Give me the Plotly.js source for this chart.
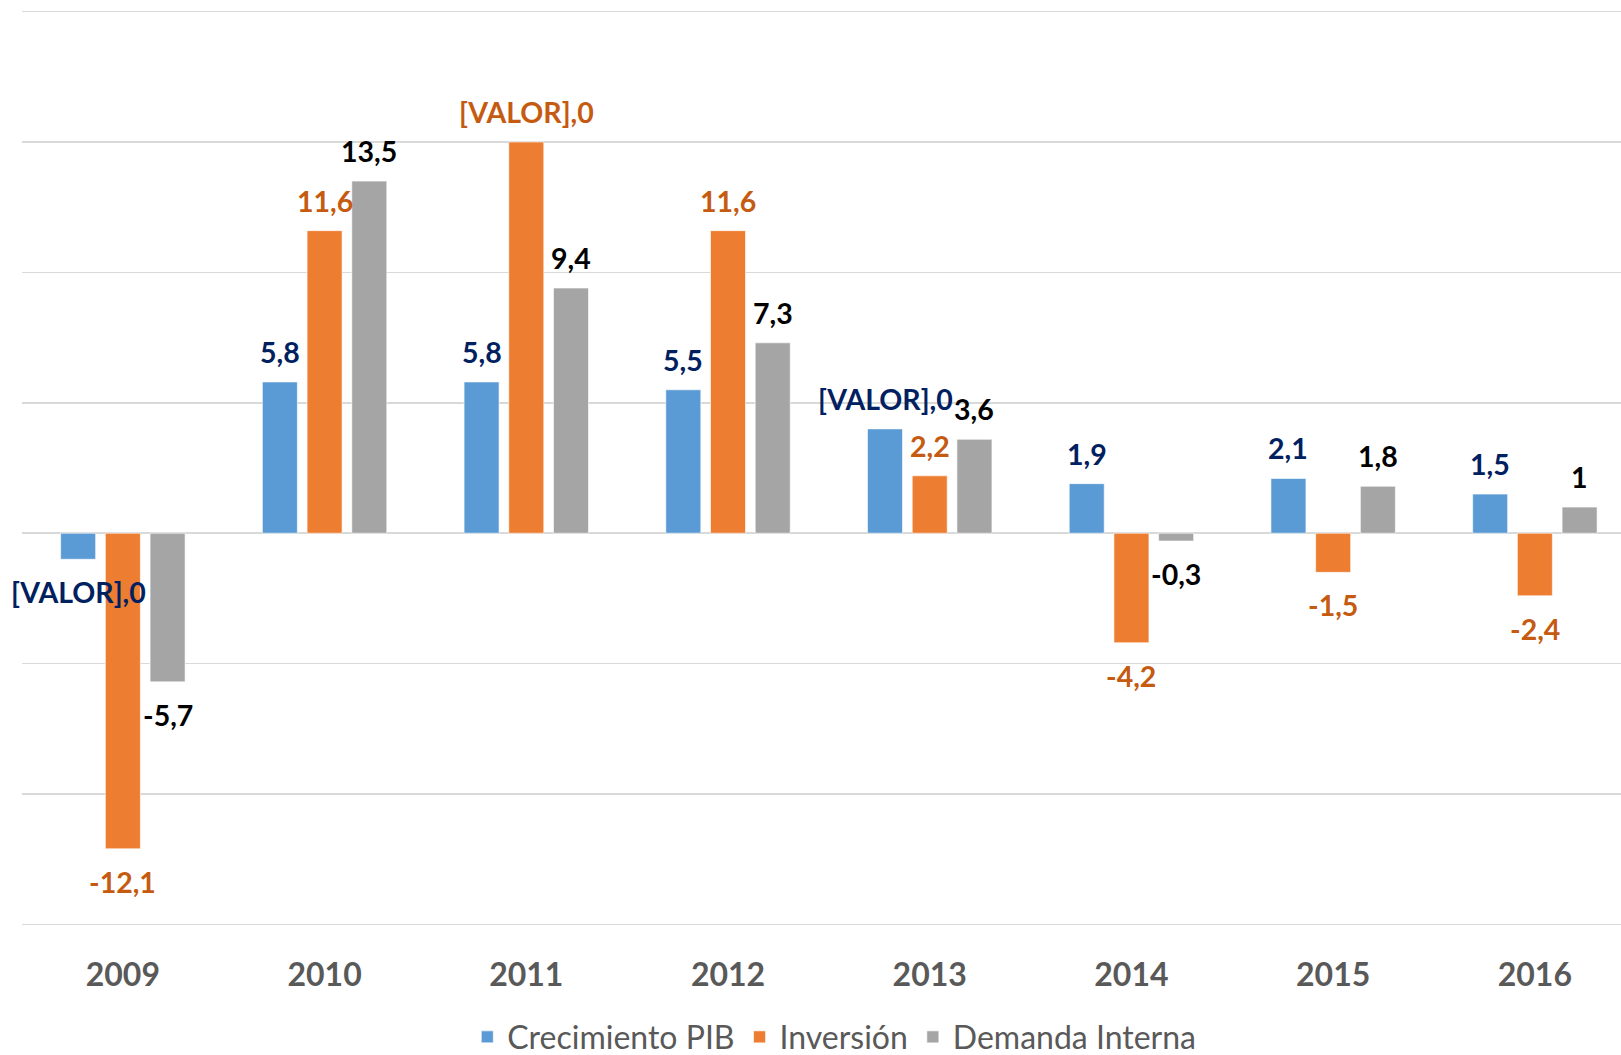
<!DOCTYPE html>
<html>
<head>
<meta charset="utf-8">
<script src="https://cdn.plot.ly/plotly-3.0.1.min.js"></script>
<style>html,body{margin:0;padding:0;background:#fff;}#chart{width:1621px;height:1055px;}</style>
</head>
<body>
<div id="chart"></div>
<script>
// ---- data ----
var years = ["2009", "2010", "2011", "2012", "2013", "2014", "2015", "2016"];
var seriesNames = ["Crecimiento PIB", "Inversión", "Demanda Interna"];
var pib = [-1.0, 5.8, 5.8, 5.5, 4.0, 1.9, 2.1, 1.5];
var inversion = [-12.1, 11.6, 15.0, 11.6, 2.2, -4.2, -1.5, -2.4];
var demanda = [-5.7, 13.5, 9.4, 7.3, 3.6, -0.3, 1.8, 1.0];
var pibLabels = ["[VALOR],0", "5,8", "5,8", "5,5", "[VALOR],0", "1,9", "2,1", "1,5"];
var inversionLabels = ["-12,1", "11,6", "[VALOR],0", "11,6", "2,2", "-4,2", "-1,5", "-2,4"];
var demandaLabels = ["-5,7", "13,5", "9,4", "7,3", "3,6", "-0,3", "1,8", "1"];

// ---- style ----
var barColors = ["#5B9BD5", "#ED7D31", "#A5A5A5"];
var labelColors = ["#002060", "#C55A11", "#000000"];
var xShifts = [-44.7, 0, 44.7];
var FONT = "Lato, 'Open Sans', 'Liberation Sans', sans-serif";

var values = [pib, inversion, demanda];
var labels = [pibLabels, inversionLabels, demandaLabels];

var traces = values.map(function (v, s) {
  return {
    type: "bar",
    name: seriesNames[s],
    legendgroup: "g" + s,
    x: years,
    y: v,
    marker: { color: barColors[s], line: { color: "rgba(255,255,255,0.6)", width: 1 } },
    hoverinfo: "x+y+name"
  };
});

var annotations = [];
values.forEach(function (v, s) {
  v.forEach(function (val, i) {
    annotations.push({
      x: i, y: val, xref: "x", yref: "y",
      text: labels[s][i],
      showarrow: false,
      xanchor: "center", yanchor: "middle",
      xshift: xShifts[s],
      yshift: val >= 0 ? 30 : -33,
      font: { family: FONT, size: 28.5, color: labelColors[s], weight: 700 }
    });
  });
});

var layout = {
  width: 1621, height: 1055,
  margin: { l: 22, r: 0, t: 10, b: 129, autoexpand: false },
  paper_bgcolor: "#ffffff", plot_bgcolor: "#ffffff",
  barmode: "group",
  bargap: 0.335,
  bargroupgap: 0.217,
  showlegend: true,
  legend: {
    orientation: "h", xref: "paper", yref: "container",
    x: 0.508, xanchor: "center", y: 0.017, yanchor: "middle",
    font: { family: FONT, size: 32, color: "#595959" },
    traceorder: "grouped",
    tracegroupgap: 29
  },
  xaxis: {
    type: "category",
    range: [-0.5, 7.427],
    showgrid: false, showline: false, zeroline: false, ticks: "",
    tickfont: { family: FONT, size: 32, color: "#595959", weight: 700 },
    ticklabelstandoff: 27,
    fixedrange: true
  },
  yaxis: {
    range: [-15.06, 20.06],
    tickvals: [-15, -10, -5, 0, 5, 10, 15, 20],
    showticklabels: false, ticks: "",
    showgrid: true, gridcolor: "#D9D9D9", gridwidth: 1.5,
    zeroline: true, zerolinecolor: "#D9D9D9", zerolinewidth: 1.5,
    showline: false,
    fixedrange: true
  },
  annotations: annotations
};

Plotly.newPlot("chart", traces, layout, { displayModeBar: false, staticPlot: true });
</script>
</body>
</html>
